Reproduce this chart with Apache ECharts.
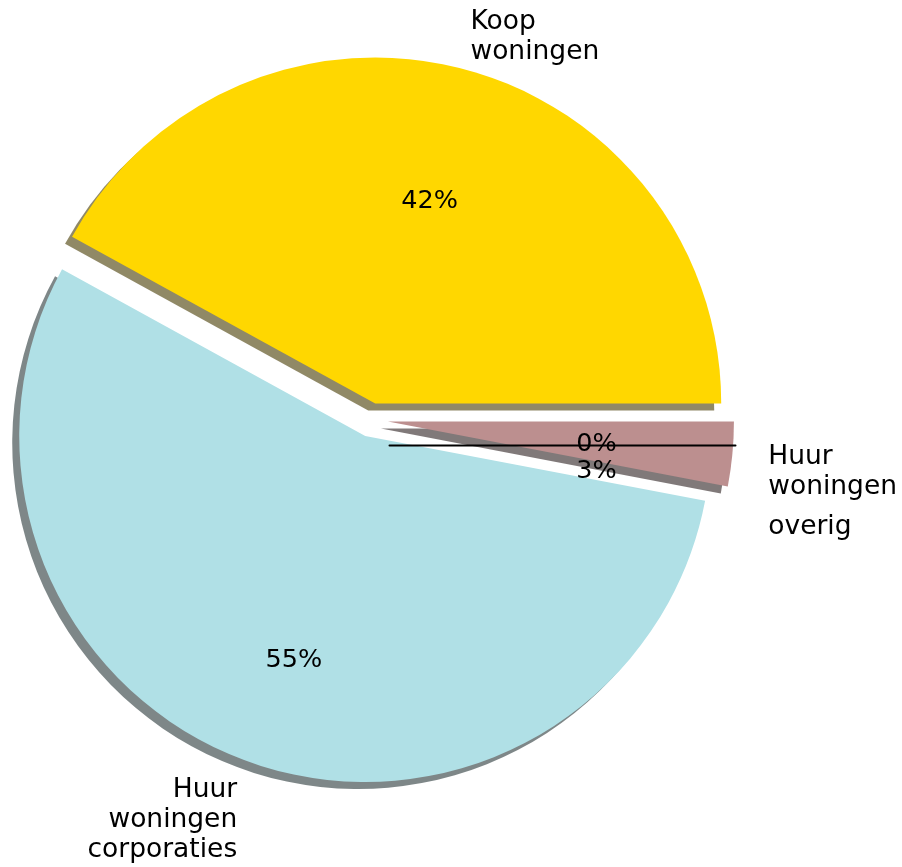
<!DOCTYPE html>
<html><head><meta charset="utf-8">
<script src="https://cdn.jsdelivr.net/npm/echarts@6/dist/echarts.min.js"></script>
<style>html,body{margin:0;padding:0;background:#fff}#c{width:902px;height:867px}</style>
</head><body><div id="c"></div>
<script>
// ---- data ----
const categories = ['Koop\nwoningen', 'Huur\nwoningen\ncorporaties', 'Huur\nwoningen\noverig'];
const values = [42, 55, 3];
const zeroCategory = '';
const zeroValue = 0;

// ---- styles (not data) ----
const sliceColors = ['#FFD700', '#B0E0E6', '#BC8F8F'];
const shadowColors = ['rgba(70,58,0,0.6)', 'rgba(40,55,57,0.6)', 'rgba(50,38,38,0.62)'];
const nameShift = [[-3, -3], [4, 31], [2, 40]];
const pctShift = [[2, 2], [0, 26], [-1, 30]];
const FONT = 'DejaVu Sans';
const CENTER = [371, 420];
const R = 346;
const EXPLODE = 17;

const nameLabel = (i) => {
  const lines = categories[i].split('\n');
  return lines.map((l, k) => (i === 2 && k === 2 ? '{b|' + l + '}' : '{a|' + l + '}')).join('\n');
};

const mainData = values.map((v, i) => ({
  value: v, name: categories[i], selected: true,
  itemStyle: { color: sliceColors[i], shadowColor: shadowColors[i], shadowOffsetX: -7, shadowOffsetY: 7, shadowBlur: 0 },
  label: { formatter: nameLabel(i) }
}));

const pctData = values.map((v, i) => ({
  value: v, name: categories[i], selected: true,
  itemStyle: { color: 'rgba(0,0,0,0)' }
}));

const zeroData = [{ value: zeroValue, name: zeroCategory,
  itemStyle: { color: 'rgba(0,0,0,0)', borderColor: '#000', borderWidth: 2 },
  label: { show: true } }].concat(values.map((v, i) => ({
  value: v, name: categories[i] + ' ',
  itemStyle: { color: 'rgba(0,0,0,0)', borderWidth: 0 },
  label: { show: false }
})));

const chart = echarts.init(document.getElementById('c'), null, { renderer: 'canvas' });
chart.setOption({
  backgroundColor: '#fff',
  animation: false,
  series: [
    {
      type: 'pie', z: 2,
      center: CENTER, radius: R,
      startAngle: 0, clockwise: false,
      selectedMode: 'multiple', selectedOffset: EXPLODE,
      avoidLabelOverlap: false,
      emphasis: { disabled: true }, silent: true,
      label: {
        show: true, position: 'outside', color: '#000', fontFamily: FONT, fontSize: 26.5,
        rich: { a: { fontFamily: FONT, fontSize: 26.5, lineHeight: 30, color: '#000' },
                b: { fontFamily: FONT, fontSize: 26.5, lineHeight: 50, color: '#000' } }
      },
      labelLine: { show: false, length: 29, length2: 0 },
      labelLayout: (p) => ({ dx: nameShift[p.dataIndex][0], dy: nameShift[p.dataIndex][1] }),
      data: mainData
    },
    {
      type: 'pie', z: 4,
      center: CENTER, radius: [R * 0.2, R],
      startAngle: 0, clockwise: false,
      selectedMode: 'multiple', selectedOffset: EXPLODE,
      avoidLabelOverlap: false,
      emphasis: { disabled: true }, silent: true,
      label: { show: true, position: 'inside', color: '#000', fontFamily: FONT, fontSize: 25.5,
        formatter: (p) => Math.round(p.percent) + '%' },
      labelLine: { show: false },
      labelLayout: (p) => ({ dx: pctShift[p.dataIndex][0], dy: pctShift[p.dataIndex][1] }),
      data: pctData
    },
    {
      type: 'pie', z: 3,
      center: [389.5, 445.5], radius: R,
      startAngle: 0, clockwise: false,
      avoidLabelOverlap: false,
      emphasis: { disabled: true }, silent: true,
      label: { position: 'inside', color: '#000', fontFamily: FONT, fontSize: 25.5,
        formatter: (p) => Math.round(p.percent) + '%' },
      labelLine: { show: false },
      labelLayout: (p) => (p.dataIndex === 0 ? { dx: 31, dy: -1 } : {}),
      data: zeroData
    }
  ]
});
</script>
</body></html>
